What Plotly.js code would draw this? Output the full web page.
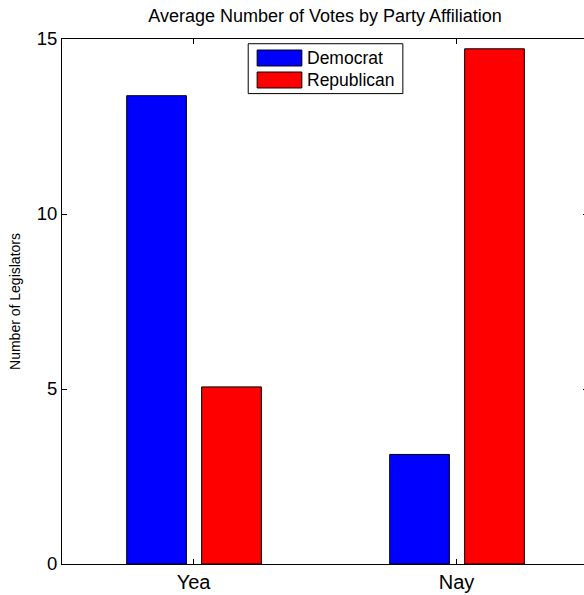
<!DOCTYPE html>
<html>
<head>
<meta charset="utf-8">
<script src="https://cdn.plot.ly/plotly-3.0.1.min.js"></script>
<style>
html,body{margin:0;padding:0;overflow:hidden;background:#fff;width:584px;height:595px;}
#chart{width:600px;height:595px;}
</style>
</head>
<body>
<div id="chart"></div>
<script>
var categories = [1, 2];
var tickLabels = ["Yea", "Nay"];
var seriesNames = ["Democrat", "Republican"];
var democrat = [13.38, 3.13];
var republican = [5.06, 14.72];
var colors = ["#0000ff", "#ff0000"];

var barWidth = 0.227;
var offsets = [-0.254, 0.031];
var values = [democrat, republican];

var traces = values.map(function (v, i) {
  return {
    type: "bar",
    x: categories,
    y: v,
    name: seriesNames[i],
    width: barWidth,
    offset: offsets[i],
    marker: { color: colors[i], line: { color: "#000", width: 1 } },
    showlegend: false,
    hoverinfo: "y"
  };
});

// custom MATLAB-style legend
var shapes = [{
  type: "rect", xref: "paper", yref: "paper",
  x0: 0.354, x1: 0.648, y0: 0.896, y1: 0.991,
  line: { color: "#000", width: 1 }, fillcolor: "#fff", layer: "above"
}];
var annotations = [];
seriesNames.forEach(function (n, i) {
  var yc = 0.9638 - i * 0.0419;
  shapes.push({
    type: "rect", xref: "paper", yref: "paper",
    x0: 0.371, x1: 0.456, y0: yc - 0.0152, y1: yc + 0.0152,
    line: { color: "#000", width: 1 }, fillcolor: colors[i], layer: "above"
  });
  annotations.push({
    xref: "paper", yref: "paper", x: 0.462, y: yc, xanchor: "left", yanchor: "middle",
    text: n, showarrow: false, font: { family: "Liberation Sans, Arial, sans-serif", size: 17.5, color: "#000" }
  });
});

var layout = {
  width: 600, height: 595,
  margin: { l: 62, r: 12, t: 39, b: 31 },
  paper_bgcolor: "#fff", plot_bgcolor: "#fff",
  font: { family: "Liberation Sans, Arial, sans-serif", color: "#000" },
  title: {
    text: "Average Number of Votes by Party Affiliation",
    font: { size: 18, color: "#000" },
    x: 0.5, xanchor: "center", xref: "paper",
    y: 0.974, yanchor: "middle", yref: "container"
  },
  barmode: "overlay",
  xaxis: {
    range: [0.5, 2.5], tickvals: categories, ticktext: tickLabels,
    ticks: "inside", ticklen: 5, tickcolor: "#000", tickwidth: 1,
    showline: true, linecolor: "#000", linewidth: 1, mirror: "ticks",
    showgrid: false, zeroline: false, tickfont: { size: 20 }, fixedrange: true
  },
  yaxis: {
    range: [0, 15], tickvals: [0, 5, 10, 15],
    ticks: "inside", ticklen: 5, tickcolor: "#000", tickwidth: 1,
    showline: true, linecolor: "#000", linewidth: 1, mirror: "ticks",
    showgrid: false, zeroline: false, tickfont: { size: 18.5 },
    title: { text: "Number of Legislators", font: { size: 14 }, standoff: 12 },
    fixedrange: true
  },
  shapes: shapes,
  annotations: annotations
};

Plotly.newPlot("chart", traces, layout, { displayModeBar: false, staticPlot: true });
</script>
</body>
</html>
